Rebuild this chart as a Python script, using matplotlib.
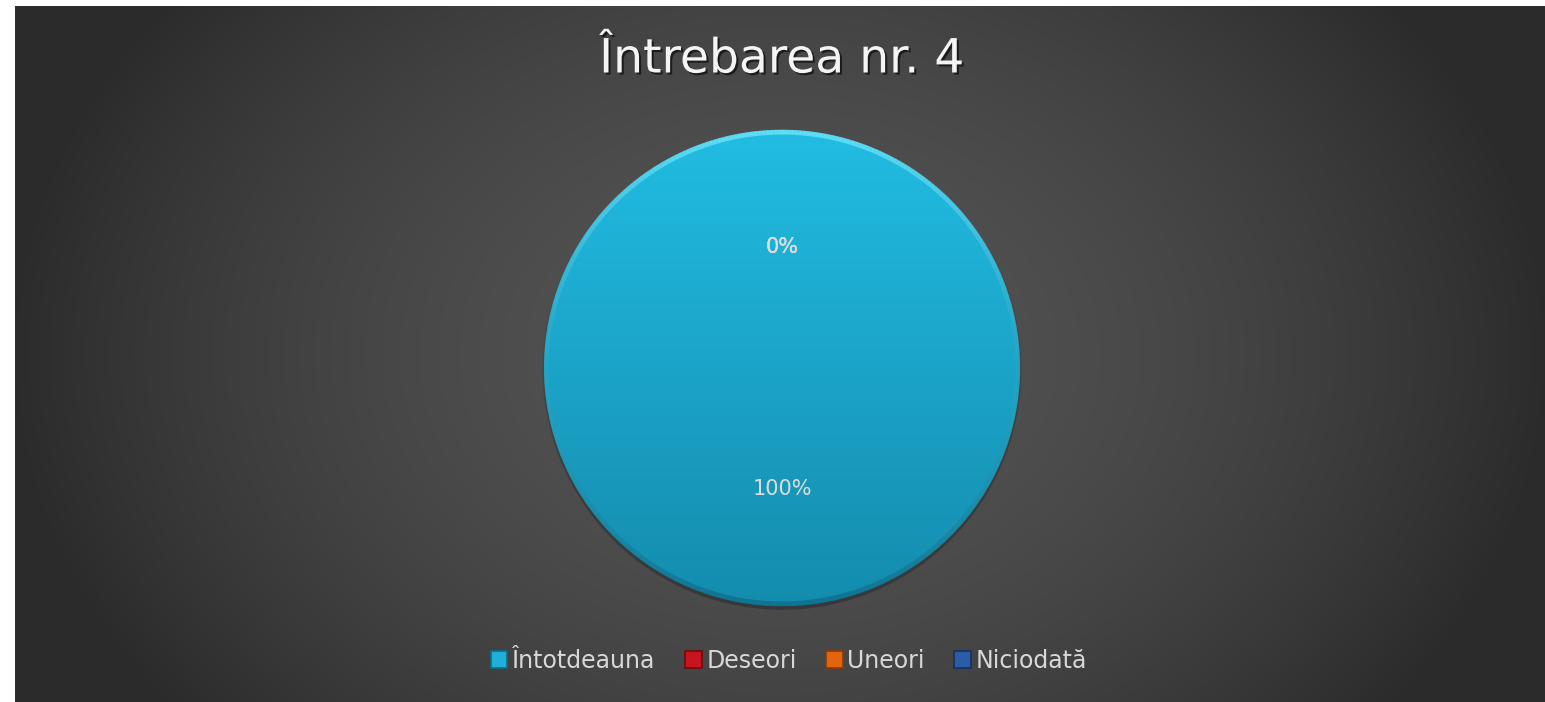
import numpy as np
import matplotlib
matplotlib.use("Agg")
import matplotlib.pyplot as plt
import matplotlib.patheffects as pe
from matplotlib.patches import Patch, Circle
from matplotlib.collections import LineCollection

# survey answers for question 4
categories = ["Întotdeauna", "Deseori", "Uneori", "Niciodată"]
values = [100, 0, 0, 0]
colors = ["#1eb0d8", "#c8141e", "#e2640e", "#2a5ca8"]
edge_colors = ["#0f6c88", "#700a10", "#8a3a06", "#16305e"]
title = "Întrebarea nr. 4"

fig = plt.figure(figsize=(15.45, 7.02), dpi=100)
fig.patch.set_facecolor("white")

# dark radial backdrop, lighter in the middle
bg = fig.add_axes([15 / 1545, 0, 1530 / 1545, 696 / 702])
bg.set_axis_off()
yy, xx = np.mgrid[-1:1:400j, -1:1:800j]
r = np.clip(np.sqrt(xx ** 2 + (yy * 0.6) ** 2), 0, 1.0)
shade = 0.335 - 0.05 * r - 0.113 * r ** 2
bg.imshow(np.dstack([shade, shade, shade]), aspect="auto",
          extent=(0, 1, 0, 1), interpolation="bilinear")
bg.set_xlim(0, 1)
bg.set_ylim(0, 1)

# pie axes, radius 238 px around (782, 368)
side = 600
lim = side / 476
ax = fig.add_axes([(782 - side / 2) / 1545, 1 - (368 + side / 2) / 702,
                   side / 1545, side / 702])
ax.set_axis_off()

# faint drop shadow just under the disc
for k, a in enumerate([0.06, 0.08, 0.10]):
    ax.add_patch(Circle((0.0, -0.008 - 0.004 * k), 1.0 + 0.004 * (2 - k),
                        color="black", alpha=a, zorder=0, linewidth=0))

wedges, texts, autotexts = ax.pie(
    values, colors=colors, startangle=90, counterclock=False,
    autopct="%1.0f%%", pctdistance=0.51, radius=1.0,
    wedgeprops=dict(linewidth=0),
    textprops=dict(color="#dcdcdc", fontsize=15, family="DejaVu Sans"))

# vertical light-to-dark gradient on the big slice
grad = np.linspace(0, 1, 256).reshape(-1, 1)
top = np.array([0x22, 0xbc, 0xe2]) / 255
bot = np.array([0x14, 0x8c, 0xae]) / 255
img = top + (bot - top) * grad[..., None]
img = np.repeat(img, 2, axis=1)
for w, v in zip(wedges, values):
    if v > 0:
        w.set_facecolor("none")
        im = ax.imshow(img, extent=(-1, 1, -1, 1), aspect="auto",
                       interpolation="bilinear", zorder=1)
        im.set_clip_path(w)

# bevel round the rim: bright on top, dark underneath
th = np.linspace(0, 2 * np.pi, 361)
pts = np.column_stack([np.cos(th), np.sin(th)]) * 0.991
segs = np.stack([pts[:-1], pts[1:]], axis=1)
s = (np.sin(th[:-1]) + 1) / 2
light = np.array([0x6a, 0xe4, 0xfa]) / 255
dark = np.array([0x0e, 0x6e, 0x8c]) / 255
seg_cols = dark + (light - dark) * s[:, None]
alphas = 0.25 + 0.6 * np.abs(s - 0.5) * 2
rgba = np.column_stack([seg_cols, alphas])
ax.add_collection(LineCollection(segs, colors=rgba, linewidths=3.5, zorder=2))

for t in autotexts:
    t.set_zorder(5)

ax.set_xlim(-lim, lim)
ax.set_ylim(-lim, lim)

fig.text(782 / 1545, 1 - 60 / 702, title, ha="center", va="center",
         fontsize=34, color="#f4f4f4", family="DejaVu Sans",
         path_effects=[pe.withSimplePatchShadow(offset=(1.5, -1.5),
                                                shadow_rgbFace="black",
                                                alpha=0.6)])

handles = [Patch(facecolor=c, edgecolor=e, linewidth=1.2)
           for c, e in zip(colors, edge_colors)]
leg = fig.legend(handles, categories, loc="center", ncol=4,
                 bbox_to_anchor=(789 / 1545, 1 - 661 / 702), frameon=False,
                 fontsize=17, handlelength=0.7, handleheight=0.7,
                 handletextpad=0.2, columnspacing=1.25)
for t in leg.get_texts():
    t.set_color("#d8d8d8")

fig.savefig("out.png", dpi=100, facecolor=fig.get_facecolor())
